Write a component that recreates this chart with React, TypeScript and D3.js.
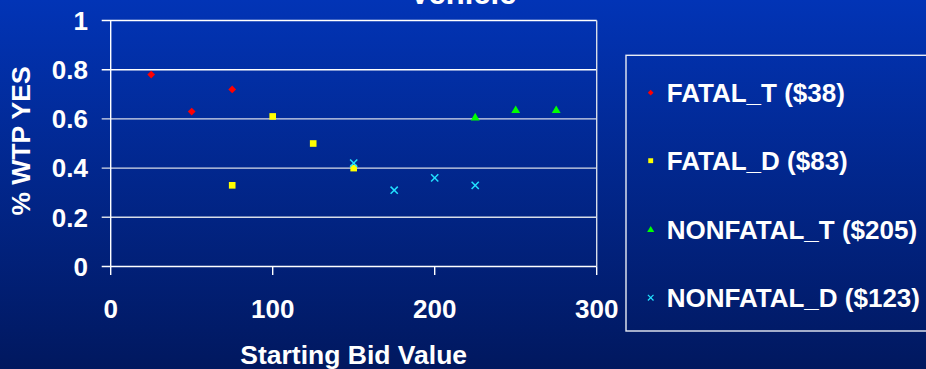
import React from "react";
import * as d3 from "d3";

// values
const fatalT = [
  [25, 0.78],
  [50, 0.63],
  [75, 0.72],
];
const fatalD = [
  [75, 0.33],
  [100, 0.61],
  [125, 0.5],
  [150, 0.4],
];
const nonfatalT = [
  [225, 0.6],
  [250, 0.63],
  [275, 0.63],
];
const nonfatalD = [
  [150, 0.42],
  [175, 0.31],
  [200, 0.36],
  [225, 0.33],
];
const legendLabels = ["FATAL_T ($38)", "FATAL_D ($83)", "NONFATAL_T ($205)", "NONFATAL_D ($123)"];
const xTicks = [0, 100, 200, 300];
const yTicks = [0, 0.2, 0.4, 0.6, 0.8, 1];

const W = 926;
const H = 369;
const font = "'Liberation Sans', Arial, sans-serif";

const xScale = d3.scaleLinear().domain([0, 300]).range([110.7, 596.7]);
const yScale = d3.scaleLinear().domain([0, 1]).range([266.5, 20.5]);

const diamond = d3.symbol(d3.symbolSquare, 30)()!;
const square = d3.symbol(d3.symbolSquare, 44)()!;
const triangle = d3.symbol(d3.symbolTriangle, 34)()!;
const smallDiamond = d3.symbol(d3.symbolSquare, 16)()!;
const smallSquare = d3.symbol(d3.symbolSquare, 24)()!;
const smallTriangle = d3.symbol(d3.symbolTriangle, 22)()!;

function Cross({ x, y, r, w }: { x: number; y: number; r: number; w: number }) {
  return (
    <g transform={`translate(${x},${y})`} stroke="#22e0ff" strokeWidth={w}>
      <line x1={-r} y1={-r} x2={r} y2={r} />
      <line x1={-r} y1={r} x2={r} y2={-r} />
    </g>
  );
}

export default function App() {
  const legendY = [92.7, 160.7, 230, 297.7];
  return (
    <svg
      width={W}
      height={H}
      style={{ position: "fixed", left: 0, top: 0, display: "block" }}
      fontFamily={font}
      fontWeight="bold"
    >
      <defs>
        <linearGradient id="bg" x1="0" y1="0" x2="0" y2="1">
          <stop offset="0" stopColor="#0234b6" />
          <stop offset="1" stopColor="#01185f" />
        </linearGradient>
      </defs>
      <rect width={W} height={H} fill="url(#bg)" />

      {/* title, cut off at the top as in the source */}
      <text x={463} y={3.5} fill="#fff" fontSize={31} textAnchor="middle">
        Vehicle
      </text>

      {/* grid lines + left ticks */}
      {yTicks.map((t) => (
        <g key={t}>
          <line
            x1={101.7}
            x2={xScale(300)}
            y1={yScale(t)}
            y2={yScale(t)}
            stroke={t === 1 || t === 0.8 || t === 0 ? "#ffffff" : "#d8dde8"}
            strokeWidth={1.4}
          />
          <text x={88} y={yScale(t) + 9.3} fill="#fff" fontSize={26} textAnchor="end">
            {t === 0 || t === 1 ? d3.format("d")(t) : d3.format(".1f")(t)}
          </text>
        </g>
      ))}

      {/* axes frame */}
      <line x1={xScale(0)} x2={xScale(0)} y1={yScale(1)} y2={yScale(0)} stroke="#fff" strokeWidth={1.4} />
      <line x1={xScale(300)} x2={xScale(300)} y1={yScale(1)} y2={yScale(0)} stroke="#d8dde8" strokeWidth={1.4} />
      {xTicks.map((t) => (
        <g key={t}>
          <line x1={xScale(t)} x2={xScale(t)} y1={yScale(0)} y2={275} stroke="#fff" strokeWidth={1.4} />
          <text x={xScale(t)} y={318} fill="#fff" fontSize={26} textAnchor="middle">
            {t}
          </text>
        </g>
      ))}

      <text x={353.7} y={364} fill="#fff" fontSize={26.5} textAnchor="middle">
        Starting Bid Value
      </text>
      <text
        transform={`translate(30,${141}) rotate(-90)`}
        fill="#fff"
        fontSize={26.5}
        textAnchor="middle"
      >
        % WTP YES
      </text>

      {/* series */}
      {fatalT.map(([x, y], i) => (
        <path key={"a" + i} d={diamond} fill="#ff0000" transform={`translate(${xScale(x)},${yScale(y)}) rotate(45)`} />
      ))}
      {fatalD.map(([x, y], i) => (
        <path key={"b" + i} d={square} fill="#ffff00" transform={`translate(${xScale(x)},${yScale(y)})`} />
      ))}
      {nonfatalT.map(([x, y], i) => (
        <path key={"c" + i} d={triangle} fill="#00ff00" transform={`translate(${xScale(x)},${yScale(y) - 1})`} />
      ))}
      {nonfatalD.map(([x, y], i) => (
        <Cross key={"d" + i} x={xScale(x)} y={yScale(y)} r={3.6} w={1.5} />
      ))}

      {/* legend */}
      <rect x={626} y={55.3} width={320} height={275.7} fill="none" stroke="#e8ecf4" strokeWidth={1.4} />
      <path d={smallDiamond} fill="#ff0000" transform={`translate(650.7,${legendY[0]}) rotate(45)`} />
      <path d={smallSquare} fill="#ffff00" transform={`translate(650.7,${legendY[1]})`} />
      <path d={smallTriangle} fill="#00ff00" transform={`translate(650.7,${legendY[2]})`} />
      <Cross x={650.7} y={legendY[3]} r={2.8} w={1.2} />
      {legendLabels.map((l, i) => (
        <text key={l} x={666.7} y={legendY[i] + 9.3} fill="#fff" fontSize={26}>
          {l}
        </text>
      ))}
    </svg>
  );
}
